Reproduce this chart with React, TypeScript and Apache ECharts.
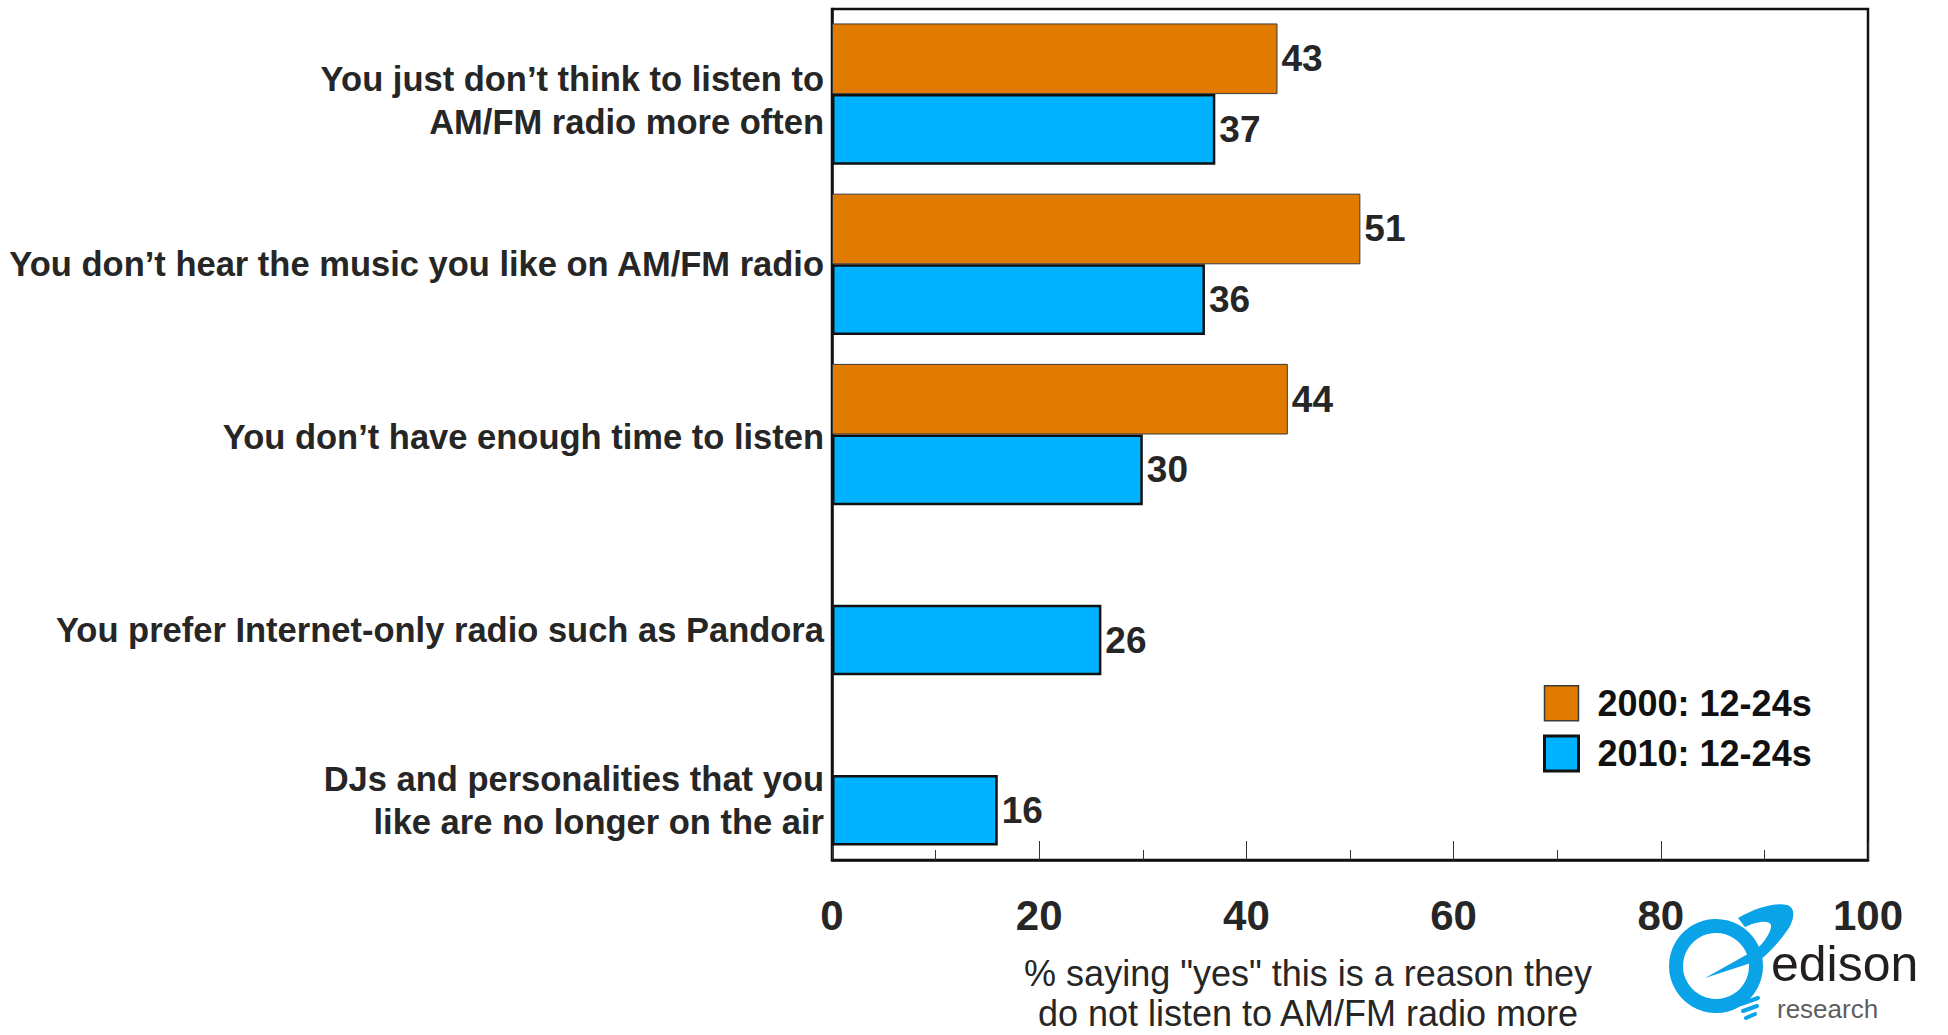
import React, { useEffect, useRef } from "react";
import * as echarts from "echarts";

const categories: string[] = [
  "You just don’t think to listen to\nAM/FM radio more often",
  "You don’t hear the music you like on AM/FM radio",
  "You don’t have enough time to listen",
  "You prefer Internet-only radio such as Pandora",
  "DJs and personalities that you\nlike are no longer on the air",
];
const series2000: (number | null)[] = [43, 51, 44, null, null];
const series2010: number[] = [37, 36, 30, 26, 16];
const seriesNames: string[] = ["2000: 12-24s", "2010: 12-24s"];
const xTicks = { min: 0, max: 100, interval: 20 };
const axisTitleLines: string[] = [
  "% saying \"yes\" this is a reason they",
  "do not listen to AM/FM radio more",
];
const logoWord = "edison";
const logoSub = "research";

const FONT = "'Liberation Sans', Arial, Helvetica, sans-serif";
const ORANGE = "#E07B00";
const BLUE = "#00B2FF";
const LOGO_BLUE = "#0AA3E8";
const TEXT = "#262626";

// label vertical nudges (layout only)
const labelGaps = [12, 0, 5, 50, 52];

const ORBIT_D =
  "M1705 978 L1755 950 C1765 943 1772 930 1771 925 C1769 919 1755 922 1745 927 L1738 918 C1755 908 1775 902 1787 905 C1797 908 1794 922 1786 932 C1779 942 1770 952 1760 960 Z";

let registered = false;
function registerShapes() {
  if (registered) return;
  registered = true;
  echarts.graphic.registerShape("orbit", echarts.graphic.extendPath(ORBIT_D, {}) as any);
}

export default function App() {
  const ref = useRef<HTMLDivElement>(null);
  useEffect(() => {
    if (!ref.current) return;
    registerShapes();
    const chart = echarts.init(ref.current, undefined, { renderer: "svg" });
    const rich: any = {
      a: { fontSize: 34.5, fontWeight: "bold", color: TEXT, lineHeight: 43, fontFamily: FONT },
    };
    labelGaps.forEach((g, i) => {
      rich["g" + i] = { fontSize: 8, lineHeight: g, fontFamily: FONT };
    });
    const valueLabel = {
      show: true,
      position: "right",
      distance: 4,
      fontSize: 37,
      fontWeight: "bold",
      color: TEXT,
      fontFamily: FONT,
    };
    const option: any = {
      animation: false,
      backgroundColor: "#fff",
      textStyle: { fontFamily: FONT },
      grid: {
        left: 832,
        right: 80,
        top: 9,
        bottom: 175,
        outerBoundsMode: "none",
        containLabel: false,
        show: true,
        borderColor: "#111",
        borderWidth: 2.5,
        backgroundColor: "transparent",
      },
      legend: {
        orient: "vertical",
        left: 1538,
        top: 680,
        itemWidth: 34,
        itemHeight: 35,
        itemGap: 13,
        icon: "rect",
        selectedMode: false,
        textStyle: {
          fontSize: 36,
          fontWeight: "bold",
          color: "#111",
          fontFamily: FONT,
          padding: [0, 0, 0, 14],
        },
        data: [
          { name: seriesNames[0], itemStyle: { color: ORANGE, borderColor: "#3a3a3a", borderWidth: 1.5 } },
          { name: seriesNames[1], itemStyle: { color: BLUE, borderColor: "#111", borderWidth: 3 } },
        ],
      },
      xAxis: {
        type: "value",
        min: xTicks.min,
        max: xTicks.max,
        interval: xTicks.interval,
        axisLine: { show: true, lineStyle: { color: "#111", width: 2.5 } },
        axisTick: { show: true, inside: true, length: 19, lineStyle: { color: "#333", width: 1 } },
        minorTick: { show: true, splitNumber: 2, length: 10, lineStyle: { color: "#333", width: 1 } },
        splitLine: { show: false },
        minorSplitLine: { show: false },
        axisLabel: {
          fontSize: 42,
          fontWeight: "bold",
          color: TEXT,
          margin: 34,
          fontFamily: FONT,
        },
        name: `{t1|${axisTitleLines[0]}}\n{t2|${axisTitleLines[1]}}`,
        nameLocation: "middle",
        nameGap: 85,
        nameTextStyle: {
          fontSize: 36,
          color: TEXT,
          fontFamily: FONT,
          padding: [0, 84, 0, 0],
          rich: {
            t1: { fontSize: 36, color: TEXT, fontFamily: FONT, lineHeight: 56 },
            t2: { fontSize: 36, color: TEXT, fontFamily: FONT, lineHeight: 24 },
          },
        },
      },
      yAxis: {
        type: "category",
        inverse: true,
        data: categories,
        axisLine: { show: true, lineStyle: { color: "#111", width: 2.5 } },
        axisTick: { show: false },
        splitLine: { show: false },
        axisLabel: {
          margin: 8,
          align: "right",
          formatter: (value: string, index: number) => {
            const lines = value.split("\n").map((l) => `{a|${l}}`);
            const g = labelGaps[index] || 0;
            return (g > 0 ? `{g${index}| }\n` : "") + lines.join("\n");
          },
          rich,
        },
      },
      series: [
        {
          name: seriesNames[0],
          type: "bar",
          data: series2000,
          barGap: "0%",
          barCategoryGap: "17%",
          itemStyle: { color: ORANGE, borderColor: "#3a3a3a", borderWidth: 1 },
          label: valueLabel,
        },
        {
          name: seriesNames[1],
          type: "bar",
          data: series2010,
          barGap: "0%",
          barCategoryGap: "17%",
          itemStyle: { color: BLUE, borderColor: "#111", borderWidth: 2.5 },
          label: valueLabel,
        },
      ],
      graphic: [
        {
          type: "circle",
          shape: { cx: 1716, cy: 966, r: 40 },
          style: { fill: "none", stroke: LOGO_BLUE, lineWidth: 14 },
          z: 10,
        },
        {
          type: "orbit",
          x: 0,
          y: 0,
          style: { fill: LOGO_BLUE },
          z: 11,
        },
        {
          type: "line",
          shape: { x1: 1741, y1: 1004, x2: 1758, y2: 998 },
          style: { stroke: LOGO_BLUE, lineWidth: 4, lineCap: "round" },
          z: 10,
        },
        {
          type: "line",
          shape: { x1: 1743, y1: 1011, x2: 1757, y2: 1006 },
          style: { stroke: LOGO_BLUE, lineWidth: 4, lineCap: "round" },
          z: 10,
        },
        {
          type: "line",
          shape: { x1: 1746, y1: 1018, x2: 1755, y2: 1014 },
          style: { stroke: LOGO_BLUE, lineWidth: 4, lineCap: "round" },
          z: 10,
        },
        {
          type: "text",
          x: 1771,
          y: 964,
          style: {
            text: logoWord,
            fontSize: 50,
            lineHeight: 36,
            fill: "#231f20",
            fontFamily: FONT,
            align: "left",
            verticalAlign: "middle",
          },
          z: 10,
        },
        {
          type: "text",
          x: 1777,
          y: 1009,
          style: {
            text: logoSub,
            fontSize: 26,
            lineHeight: 18,
            fill: "#5e5e5e",
            fontFamily: FONT,
            align: "left",
            verticalAlign: "middle",
          },
          z: 10,
        },
      ],
    };
    chart.setOption(option);
    return () => chart.dispose();
  }, []);
  return (
    <div
      ref={ref}
      style={{ position: "fixed", left: 0, top: 0, width: 1948, height: 1035, background: "#fff" }}
    />
  );
}
